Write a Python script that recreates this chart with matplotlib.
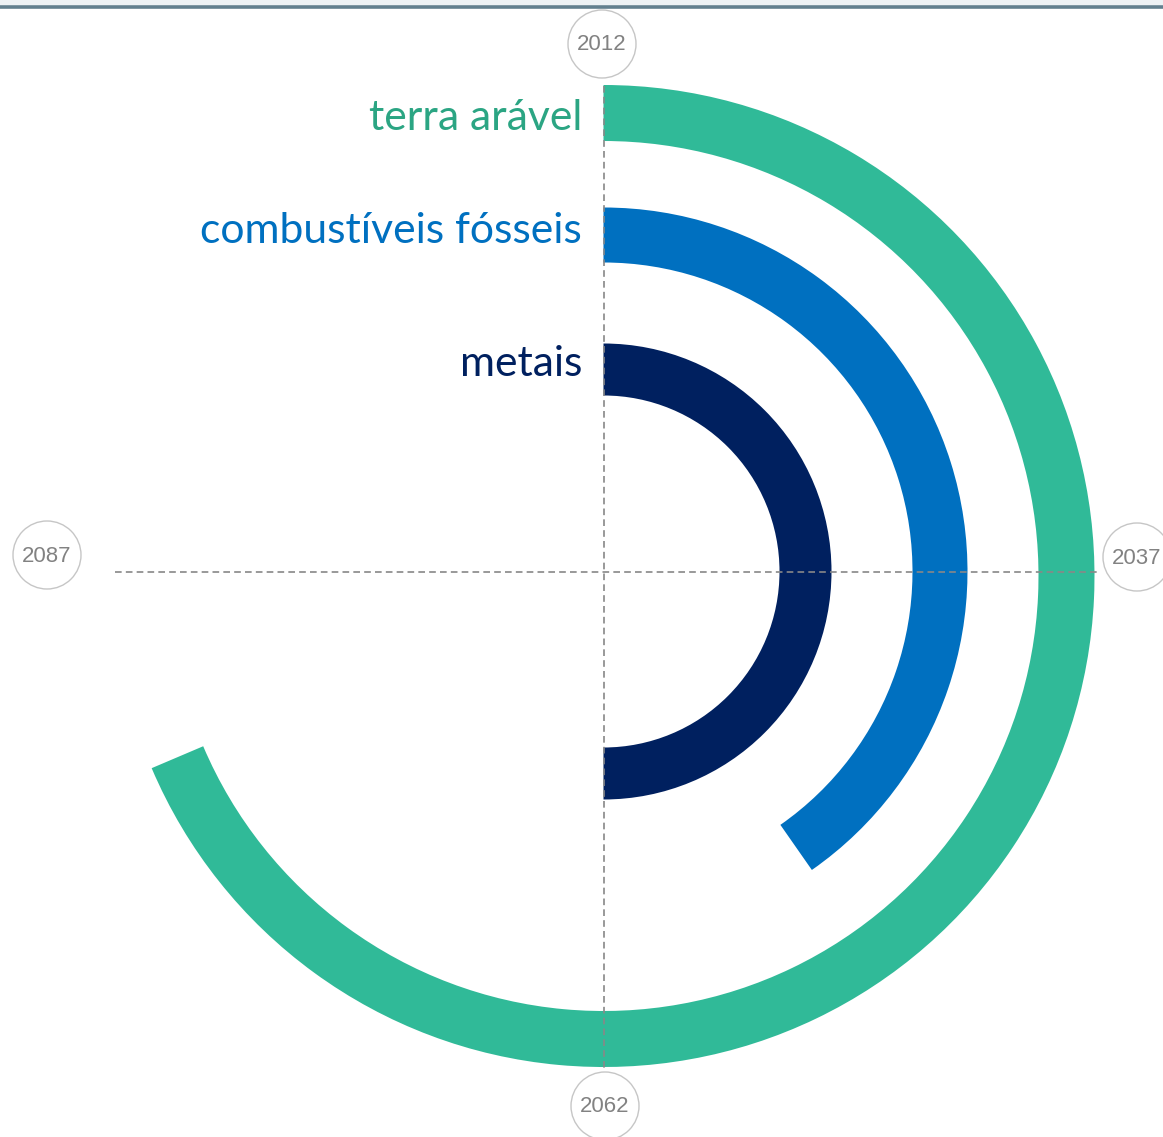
import numpy as np
import matplotlib.pyplot as plt
from matplotlib.patches import Wedge, Circle, Rectangle

resources = ['terra arável', 'combustíveis fósseis', 'metais']
end_years = [2080.6, 2052.3, 2062.0]
start_year = 2012
years_per_turn = 100

# ring styles, outer to inner
bar_colors = ['#30BA98', '#0070C0', '#00205F']
text_colors = ['#2BA583', '#0070C0', '#00205F']
outer_r = [491, 364, 228]
ring_w = [56, 55, 52]
center_dy = [4.5, 0, 0]          # small vertical nudge per ring
label_baseline = [130, 243, 376]

tick_years = [2012, 2037, 2062, 2087]
tick_pos = [(602, 44), (1137, 557), (605, 1106), (47, 555)]

W, H = 1163, 1137
cx, cy = 603.5, 571.5

fig = plt.figure(figsize=(W / 100, H / 100), dpi=100)
ax = fig.add_axes([0, 0, 1, 1])
ax.set_xlim(0, W)
ax.set_ylim(H, 0)
ax.axis('off')

# header rule
ax.add_patch(Rectangle((0, 0), W, 5, color='#edf2f5', lw=0))
ax.plot([0, W], [7, 7], color='#62808f', lw=2.6, solid_capstyle='butt')

# rings: start at the top, clockwise on screen (y axis is inverted)
for name, end, col, tcol, r, w, dy, yb in zip(resources, end_years, bar_colors,
                                              text_colors, outer_r, ring_w,
                                              center_dy, label_baseline):
    sweep = 360.0 * (end - start_year) / years_per_turn
    ax.add_patch(Wedge((cx, cy + dy), r, -90, -90 + sweep, width=w,
                       facecolor=col, edgecolor='none', zorder=2))
    ax.text(582, yb, name, ha='right', va='baseline',
            color=tcol, fontsize=30.7, family='Lato', zorder=3)

# dashed cross
ax.plot([cx, cx], [86, 1068], color='#888888', lw=1.2,
        dashes=(4, 2.5), zorder=4)
ax.plot([115, 1097], [cy, cy], color='#888888', lw=1.2,
        dashes=(4, 2.5), zorder=4)

# year markers
for yr, (x, y) in zip(tick_years, tick_pos):
    ax.add_patch(Circle((x, y), 34, facecolor='white', edgecolor='#c6c6c6',
                        lw=1.0, zorder=5))
    ax.text(x, y + 1, str(yr), ha='center', va='center', color='#828282',
            fontsize=16, family='Liberation Sans', zorder=6)

plt.savefig('out.png', dpi=100)
